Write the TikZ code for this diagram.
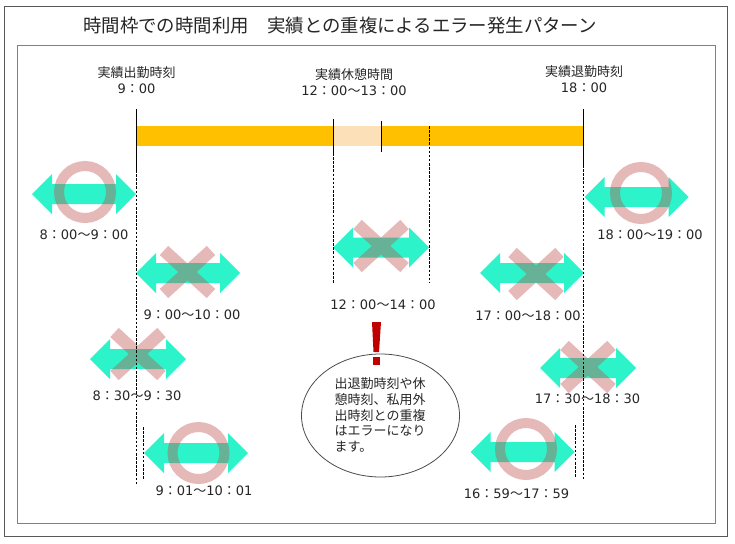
\documentclass[tikz,border=0pt]{standalone}
\usepackage{fontspec}
\setmainfont{Noto Sans CJK JP}
\newfontfamily\digf{DejaVu Sans}
\newcommand{\dg}[1]{{\digf\fontsize{13}{15}\selectfont #1}}
\newcommand{\tm}[4]{\dg{#1}：\dg{#2}～\dg{#3}：\dg{#4}}
\definecolor{ink}{HTML}{262626}
\definecolor{mint}{HTML}{2CF3C9}
\definecolor{pinkmark}{HTML}{C0504D}
\definecolor{barc}{HTML}{FFC000}
\definecolor{restc}{HTML}{FBE0B8}
\definecolor{bang}{HTML}{C00000}
\tikzset{
  x=1pt,y=-1pt,
  frame/.style={draw=#1,line width=1pt,fill=white},
  lbl/.style={text=ink,font=\fontsize{13}{16}\selectfont,inner sep=0pt,align=center},
  solidline/.style={draw=black,line width=1.2pt},
  dashline/.style={draw=black,line width=1.3pt,dash pattern=on 2.6pt off 1.5pt},
  ringmark/.style={draw=pinkmark,draw opacity=.4,line width=10pt,fill=none},
}
% centre x, y, half length
\newcommand{\dblarrow}[4]{%
  \path[fill=mint] (#1-#3,#2) -- ++(20,-20) -- ++(0,10) -- (#1+#3-20,#2-10) -- ++(0,-10)
   -- (#1+#3,#2) -- (#1+#3-20,#2+20) -- ++(0,-10) -- (#1-#3+20,#2+10) -- ++(0,10) -- cycle;
  \node[inner sep=0pt,minimum size=0pt] (#4) at (#1,#2) {};}
\newcommand{\okmark}[3]{\draw[ringmark] (#1,#2) circle (26); \node[inner sep=0pt,minimum size=0pt] (#3) at (#1,#2) {};}
\newcommand{\ngmark}[3]{%
  \begin{scope}[transparency group,opacity=.4]
  \draw[draw=pinkmark,line width=12.5pt] (#1-23.5,#2-21.5) -- (#1+23.5,#2+21.5);
  \draw[draw=pinkmark,line width=12.5pt] (#1+23.5,#2-21.5) -- (#1-23.5,#2+21.5);
  \end{scope}
  \node[inner sep=0pt,minimum size=0pt] (#3) at (#1,#2) {};}
\begin{document}
\begin{tikzpicture}
\useasboundingbox (0,0) rectangle (735,543);
\fill[white] (0,0) rectangle (735,543);
\draw[frame=black!65] (4.5,6.5) rectangle (727.5,536);
\draw[frame=black!50] (17.5,45.5) rectangle (715.5,523);
\node[text=ink,font=\fontsize{18.4}{20}\selectfont,inner sep=0pt] (title) at (340,26) {時間枠での時間利用　実績との重複によるエラー発生パターン};

\node[lbl] (lblin) at (136.5,80) {実績出勤時刻\\\dg{9}：\dg{00}};
\node[lbl] (lblrest) at (354,82) {実績休憩時間\\\dg{12}：\dg{00}～\dg{13}：\dg{00}};
\node[lbl] (lblout) at (584,79) {実績退勤時刻\\\dg{18}：\dg{00}};

% work bar
\fill[barc] (137,126) rectangle (584,146);
\fill[restc] (333.5,126) rectangle (382,146);

% connectors
\coordinate (inT) at (136.5,109);
\coordinate (inM) at (136.5,170);
\coordinate (inB) at (136.5,485);
\coordinate (outT) at (583.5,109);
\coordinate (outM) at (583.5,165);
\coordinate (outB) at (583.5,480);
\coordinate (rsT) at (333.5,119);
\coordinate (rsM) at (333.5,153);
\coordinate (rsB) at (333.5,283);
\coordinate (reT) at (381.5,121);
\coordinate (reB) at (381.5,152);
\coordinate (xeT) at (429.5,126);
\coordinate (xeB) at (429.5,283);
\coordinate (n1T) at (143.5,427);
\coordinate (n1B) at (143.5,479);
\coordinate (n2T) at (575.5,425);
\coordinate (n2B) at (575.5,478);

% arrows and marks
\dblarrow{84}{194}{52}{a1}
\okmark{85}{192}{m1}
\dblarrow{636.5}{197}{52}{a2}
\okmark{641}{193}{m2}
\dblarrow{188}{273}{52}{a3}
\ngmark{187.5}{272}{m3}
\dblarrow{381}{247.5}{48}{a4}
\ngmark{381}{246}{m4}
\dblarrow{532}{273}{52}{a5}
\ngmark{536}{274}{m5}
\dblarrow{138}{359}{48}{a6}
\ngmark{138}{354}{m6}
\dblarrow{588}{368}{48}{a7}
\ngmark{588}{367}{m7}
\dblarrow{196}{453}{52}{a8}
\okmark{198.5}{453}{m8}
\dblarrow{522.5}{452}{52}{a9}
\okmark{526}{449}{m9}

% lines
\draw[solidline] (inT) -- (inM);
\draw[dashline] (inM) -- (inB);
\draw[solidline] (outT) -- (outM);
\draw[dashline] (outM) -- (outB);
\draw[solidline] (rsT) -- (rsM);
\draw[dashline] (rsM) -- (rsB);
\draw[solidline] (reT) -- (reB);
\draw[dashline] (xeT) -- (xeB);
\draw[dashline] (n1T) -- (n1B);
\draw[dashline] (n2T) -- (n2B);

% time labels
\node[lbl] (t1) at (84,234.5) {\tm{8}{00}{9}{00}};
\node[lbl] (t2) at (650,235) {\tm{18}{00}{19}{00}};
\node[lbl] (t3) at (192,315) {\tm{9}{00}{10}{00}};
\node[lbl] (t4) at (383,305) {\tm{12}{00}{14}{00}};
\node[lbl] (t5) at (528,316) {\tm{17}{00}{18}{00}};
\node[lbl] (t6) at (137,396) {\tm{8}{30}{9}{30}};
\node[lbl] (t7) at (587.5,399) {\tm{17}{30}{18}{30}};
\node[lbl] (t8) at (204,491) {\tm{9}{01}{10}{01}};
\node[lbl] (t9) at (516.5,494) {\tm{16}{59}{17}{59}};

% bubble
\draw[draw=black!70,line width=.8pt,fill=white] (380.5,415.5) ellipse (79 and 61.5);
\node[lbl,align=left,anchor=west,font=\fontsize{13}{15.8}\selectfont] (bubble) at (334.5,415) {出退勤時刻や休\\憩時刻、私用外\\出時刻との重複\\はエラーになり\\ます。};
\fill[bang] (372,322) -- (381,322) -- (379,352) -- (373.5,352) -- cycle;
\fill[bang] (372.5,357) rectangle (380,365);
\end{tikzpicture}
\end{document}
